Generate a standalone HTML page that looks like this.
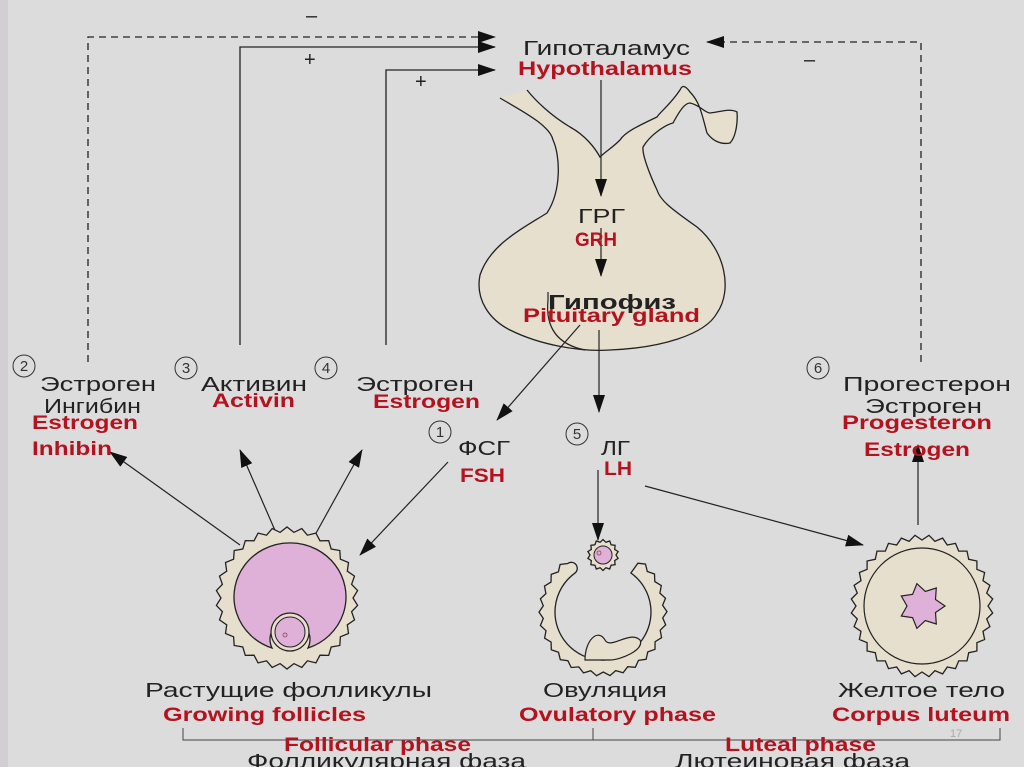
<!DOCTYPE html>
<html><head><meta charset="utf-8"><style>
html,body{margin:0;padding:0;background:#dddcdd;}
svg{display:block}
text{font-family:"Liberation Sans",sans-serif;}
.k{fill:#222;font-size:20px}
.r{fill:#b3121e;font-size:19px;font-weight:bold}
</style></head><body>
<svg id="s" width="1024" height="767" viewBox="0 0 1024 767" xmlns="http://www.w3.org/2000/svg">
<defs>
<marker id="b" markerWidth="18" markerHeight="12" refX="17" refY="6" orient="auto" markerUnits="userSpaceOnUse"><path d="M0,0 L18,6 L0,12z" fill="#111"/></marker></defs>
<rect width="1024" height="767" fill="#dddcdd"/>
<rect width="8" height="767" fill="#d2cfd2"/>
<g stroke="#222" stroke-width="1.3" fill="none">
<path d="M88,362 V37 H495" stroke-dasharray="7,5" marker-end="url(#b)"/>
<path d="M240,345 V47 H495" marker-end="url(#b)"/>
<path d="M386,345 V70 H495" marker-end="url(#b)"/>
<path d="M921,362 V42 H707" stroke-dasharray="7,5" marker-end="url(#b)"/>
</g>
<text x="306" y="22" class="k">–</text>
<text x="304" y="66" class="k">+</text>
<text x="415" y="88" class="k">+</text>
<text x="804" y="66" class="k">–</text>
<text x="523" y="55" class="k" textLength="167" lengthAdjust="spacingAndGlyphs">Гипоталамус</text>
<text x="518" y="75" class="r" textLength="174" lengthAdjust="spacingAndGlyphs">Hypothalamus</text>
<path d="M500,98 C520,110 550,125 553,140 C560,155 562,190 547,213 C520,230 490,245 480,275 C475,300 490,320 510,330 C540,345 580,352 610,350 C660,348 705,335 717,313 C733,290 725,250 697,227 C670,208 660,200 657,190 C650,175 642,155 643,147 C650,135 665,125 673,123 C680,110 685,103 690,103 C700,105 705,113 710,113 C720,112 730,108 737,112 C738,125 735,138 730,143 C720,145 712,140 707,133 C702,115 700,102 690,92 C685,85 682,85 680,90 C670,105 660,112 657,117 C640,125 625,132 620,140 C612,148 605,152 600,157 C595,148 585,135 570,127 C550,115 535,100 527,90" fill="#e7dfcd" stroke="#222" stroke-width="1.3"/>
<path d="M548,292 V300 M548,300 C545,330 560,345 585,350" fill="none" stroke="#222" stroke-width="1.2"/>
<g stroke="#222" stroke-width="1.2" fill="none">
<path d="M601,80 V196" marker-end="url(#b)"/>
<path d="M601,228 V276" marker-end="url(#b)"/>
<path d="M580,325 L497,420" marker-end="url(#b)"/>
<path d="M599,330 V412" marker-end="url(#b)"/>
<path d="M240,545 L110,452" marker-end="url(#b)"/>
<path d="M277,535 L240,450" marker-end="url(#b)"/>
<path d="M315,535 L362,450" marker-end="url(#b)"/>
<path d="M448,462 L360,555" marker-end="url(#b)"/>
<path d="M598,470 V540" marker-end="url(#b)"/>
<path d="M645,486 L863,545" marker-end="url(#b)"/>
<path d="M918,525 V445" marker-end="url(#b)"/>
</g>
<text x="578" y="223" class="k" textLength="47" lengthAdjust="spacingAndGlyphs">ГРГ</text>
<text x="575" y="246" class="r" textLength="42" lengthAdjust="spacingAndGlyphs">GRH</text>
<text x="548" y="309" class="k" font-weight="bold" textLength="128" lengthAdjust="spacingAndGlyphs">Гипофиз</text>
<text x="523" y="322" class="r" textLength="177" lengthAdjust="spacingAndGlyphs">Pituitary gland</text>
<g fill="none" stroke="#333" stroke-width="1">
<circle cx="24" cy="366" r="11"/><circle cx="186" cy="368" r="11"/><circle cx="326" cy="368" r="11"/><circle cx="440" cy="432" r="11"/><circle cx="577" cy="434" r="11"/><circle cx="818" cy="368" r="11"/></g>
<g font-size="15" fill="#333" text-anchor="middle" font-family="Liberation Sans"><text x="24" y="371">2</text><text x="186" y="373">3</text><text x="326" y="373">4</text><text x="440" y="437">1</text><text x="577" y="439">5</text><text x="818" y="373">6</text></g>
<text x="40" y="391" class="k" textLength="116" lengthAdjust="spacingAndGlyphs">Эстроген</text>
<text x="44" y="413" class="k" textLength="97" lengthAdjust="spacingAndGlyphs">Ингибин</text>
<text x="32" y="429" class="r" textLength="106" lengthAdjust="spacingAndGlyphs">Estrogen</text>
<text x="32" y="455" class="r" textLength="80" lengthAdjust="spacingAndGlyphs">Inhibin</text>
<text x="201" y="391" class="k" textLength="106" lengthAdjust="spacingAndGlyphs">Активин</text>
<text x="212" y="407" class="r" textLength="83" lengthAdjust="spacingAndGlyphs">Activin</text>
<text x="356" y="391" class="k" textLength="118" lengthAdjust="spacingAndGlyphs">Эстроген</text>
<text x="373" y="408" class="r" textLength="107" lengthAdjust="spacingAndGlyphs">Estrogen</text>
<text x="458" y="455" class="k" textLength="52" lengthAdjust="spacingAndGlyphs">ФСГ</text>
<text x="460" y="482" class="r" textLength="45" lengthAdjust="spacingAndGlyphs">FSH</text>
<text x="601" y="455" class="k" textLength="29" lengthAdjust="spacingAndGlyphs">ЛГ</text>
<text x="604" y="475" class="r" textLength="28" lengthAdjust="spacingAndGlyphs">LH</text>
<text x="843" y="391" class="k" textLength="168" lengthAdjust="spacingAndGlyphs">Прогестерон</text>
<text x="865" y="413" class="k" textLength="117" lengthAdjust="spacingAndGlyphs">Эстроген</text>
<text x="842" y="429" class="r" textLength="150" lengthAdjust="spacingAndGlyphs">Progesteron</text>
<text x="864" y="456" class="r" textLength="106" lengthAdjust="spacingAndGlyphs">Estrogen</text>
<g id="shapes"></g>
<text x="145" y="697" class="k" textLength="287" lengthAdjust="spacingAndGlyphs">Растущие фолликулы</text>
<text x="163" y="721" class="r" textLength="203" lengthAdjust="spacingAndGlyphs">Growing follicles</text>
<text x="543" y="697" class="k" textLength="124" lengthAdjust="spacingAndGlyphs">Овуляция</text>
<text x="519" y="721" class="r" textLength="197" lengthAdjust="spacingAndGlyphs">Ovulatory phase</text>
<text x="838" y="697" class="k" textLength="167" lengthAdjust="spacingAndGlyphs">Желтое тело</text>
<text x="832" y="721" class="r" textLength="178" lengthAdjust="spacingAndGlyphs">Corpus luteum</text>
<path d="M183,728 V740 H1000 V728 M593,728 V740" fill="none" stroke="#444" stroke-width="1"/>
<text x="284" y="751" class="r" textLength="187" lengthAdjust="spacingAndGlyphs">Follicular phase</text>
<text x="725" y="751" class="r" textLength="151" lengthAdjust="spacingAndGlyphs">Luteal phase</text>
<text x="247" y="768" class="k" textLength="279" lengthAdjust="spacingAndGlyphs">Фолликулярная фаза</text>
<text x="675" y="768" class="k" textLength="235" lengthAdjust="spacingAndGlyphs">Лютеиновая фаза</text>
<text x="950" y="737" font-size="11" fill="#aaa">17</text>
</svg>
<script>
var g=document.getElementById('shapes');var NS='http://www.w3.org/2000/svg';
function el(t,a){var e=document.createElementNS(NS,t);for(var k in a)e.setAttribute(k,a[k]);g.appendChild(e);return e;}
function zz(cx,cy,r,n,d,a0,a1){var p=[];for(var i=0;i<=2*n;i++){var a=a0+(a1-a0)*i/(2*n);var rr=r+(i%2?d:0);p.push((cx+rr*Math.cos(a)).toFixed(1)+','+(cy+rr*Math.sin(a)).toFixed(1));}return p;}
function full(cx,cy,r,n,d){el('polygon',{points:zz(cx,cy,r,n,d,0,2*Math.PI).join(' '),fill:'#e7dfcd',stroke:'#222','stroke-width':1.3});}
full(287,598,66,30,5);
el('path',{d:'M272,648 A56,54 0 1 1 308,648 A20,20 0 1 0 272,648z',fill:'#dfb0d8',stroke:'#222','stroke-width':1.3});
el('circle',{cx:290,cy:632,r:19,fill:'#e7dfcd',stroke:'#222','stroke-width':1.2});
el('circle',{cx:290,cy:632,r:15,fill:'#dfb0d8',stroke:'#222','stroke-width':1});
el('circle',{cx:285,cy:635,r:2,fill:'none',stroke:'#844','stroke-width':0.8});
full(603,555,13,14,2.5);
el('circle',{cx:603,cy:555,r:9,fill:'#dfb0d8',stroke:'#222','stroke-width':1});
el('circle',{cx:599,cy:553,r:2,fill:'none',stroke:'#844','stroke-width':0.8});
var outer=zz(603,612,60,24,4,-0.95,-2.2+2*Math.PI);
el('path',{d:'M'+outer.join(' L')+' A6,6 0 0 1 '+(603+48*Math.cos(-2.2)).toFixed(1)+','+(612+48*Math.sin(-2.2)).toFixed(1)+' A48,48 0 1 0 '+(603+48*Math.cos(-0.95)).toFixed(1)+','+(612+48*Math.sin(-0.95)).toFixed(1)+' z',fill:'#e7dfcd',stroke:'#222','stroke-width':1.3});
el('path',{d:'M585,660 C585,640 598,628 605,640 C610,650 630,630 640,640 C645,650 620,660 610,660 z',fill:'#e7dfcd',stroke:'#222','stroke-width':1.2});
full(922,606,66,32,5);
el('circle',{cx:922,cy:606,r:58,fill:'#e7dfcd',stroke:'#222','stroke-width':1.2});
var st=[];for(var i=0;i<14;i++){var a=i*Math.PI/7;var rr=i%2?15:23;st.push((922+rr*Math.cos(a)).toFixed(1)+','+(606+rr*Math.sin(a)).toFixed(1));}
el('polygon',{points:st.join(' '),fill:'#dfb0d8',stroke:'#222','stroke-width':1.2});
</script>
</body></html>
